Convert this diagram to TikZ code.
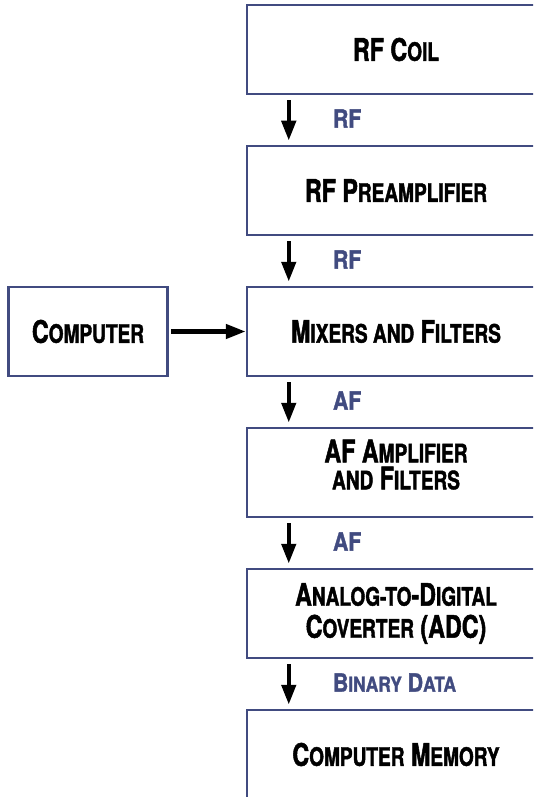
\documentclass[tikz,border=0pt]{standalone}
\usepackage{fontspec}
\setmainfont{TeX Gyre Heros}
\newfontfamily\stagefont{TeX Gyre Heros}[FakeStretch=0.75, BoldFeatures={FakeBold=1.6}]
\newfontfamily\sigfont{TeX Gyre Heros}[FakeStretch=0.85, BoldFeatures={FakeBold=1.4}]
\usetikzlibrary{positioning, arrows.meta}

\definecolor{slate}{HTML}{414B80}

% fake small caps: the letters after the first one, a size smaller
\makeatletter
\newcommand{\lc}[1]{{\fontsize{\fpeval{0.82*\f@size}}{\f@baselineskip}\selectfont #1}}
\makeatother

\tikzstyle{stagebox} = [rectangle, draw=slate, line width=2.5pt, minimum width=298pt, minimum height=89pt, align=center, font=\stagefont\fontsize{31}{31}\selectfont\bfseries]
\tikzstyle{sig} = [inner sep=0pt, text=slate, font=\sigfont\fontsize{25}{25}\selectfont\bfseries]
\tikzstyle{arrow} = [line width=4.5pt, -{Triangle[length=20pt, width=14pt]}]

\begin{document}
\begin{tikzpicture}[x=1pt, y=1pt, node distance=49.5pt]

      \useasboundingbox (0,0) rectangle (533,-797);
      \clip (0,0) rectangle (533,-797);

      \node (coil) [stagebox] at (396,-49.5) {RF C\lc{OIL}};
      \node (preamp) [stagebox, below=of coil] {RF P\lc{REAMPLIFIER}};
      \node (mixers) [stagebox, below=of preamp] {M\lc{IXERS AND} F\lc{ILTERS}};
      \node (afamp) [stagebox, below=of mixers, font=\stagefont\fontsize{31}{27}\selectfont\bfseries, text depth=16pt] {AF A\lc{MPLIFIER}\\ \lc{AND} F\lc{ILTERS}};
      \node (adc) [stagebox, below=of afamp, font=\stagefont\fontsize{31}{32}\selectfont\bfseries] {A\lc{NALOG-TO}-D\lc{IGITAL}\\ C\lc{OVERTER} (ADC)};
      \node (memory) [stagebox, below=of adc] {C\lc{OMPUTER} M\lc{EMORY}};
      \node (computer) [stagebox, minimum width=159pt, left=77pt of mixers] {C\lc{OMPUTER}};

      \draw [arrow] ([xshift=43pt, yshift=-5pt]coil.south west) -- ([xshift=43pt, yshift=4pt]preamp.north west)
        node [sig, midway, right=42pt, yshift=2pt] {RF};
      \draw [arrow] ([xshift=43pt, yshift=-5pt]preamp.south west) -- ([xshift=43pt, yshift=4pt]mixers.north west)
        node [sig, midway, right=42pt, yshift=2pt] {RF};
      \draw [arrow] ([xshift=43pt, yshift=-5pt]mixers.south west) -- ([xshift=43pt, yshift=4pt]afamp.north west)
        node [sig, midway, right=42pt, yshift=2pt] {AF};
      \draw [arrow] ([xshift=43pt, yshift=-5pt]afamp.south west) -- ([xshift=43pt, yshift=4pt]adc.north west)
        node [sig, midway, right=42pt, yshift=2pt] {AF};
      \draw [arrow] ([xshift=43pt, yshift=-5pt]adc.south west) -- ([xshift=43pt, yshift=4pt]memory.north west)
        node [sig, midway, right=42pt, yshift=2pt] {B\lc{INARY} D\lc{ATA}};
      \draw [arrow] ([xshift=2pt]computer.east) -- (mixers.west);
    \end{tikzpicture}
\end{document}
